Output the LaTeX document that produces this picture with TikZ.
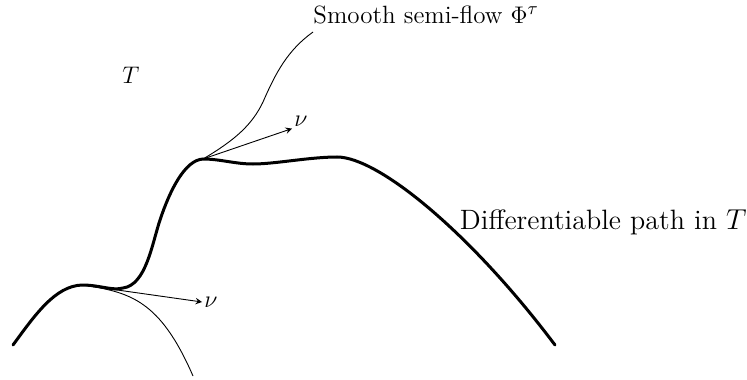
\documentclass[tikz,border=0pt]{standalone}
\usepackage{amsmath,amssymb}
\usepackage{tikz}
\usetikzlibrary{positioning}

\begin{document}
\begin{tikzpicture}[x=0.5pt, y=-0.5pt,
  path/.style={line width=1.5pt, line cap=round},
  flow/.style={line width=0.45pt},
  arrow/.style={line width=0.45pt,->,>=stealth},
  lbl/.style={inner sep=1pt, font=\fontsize{12}{14}\selectfont}
]
  \useasboundingbox (0,0) rectangle (747,379);

  % base points on the path
  \coordinate (p1) at (82,285);
  \coordinate (p2) at (203,159);

  % differentiable path
  \draw[path] (13,345) .. controls (35,315) and (55,286) .. (p1)
    .. controls (100,285) and (112,291) .. (123,288)
    .. controls (146,285) and (152,244) .. (160,220)
    .. controls (170,190) and (185,160) .. (p2)
    .. controls (220,159) and (235,164) .. (253,164)
    .. controls (275,164) and (310,157) .. (337,157)
    .. controls (378,157) and (470,232) .. (555,345);

  % semi-flow curves
  \draw[flow] (p1) .. controls (130,292) and (160,300) .. (193,376);
  \draw[flow] (p2) .. controls (235,140) and (252,125) .. (263,102)
    .. controls (276,72) and (288,50) .. (313,32);

  % normal vectors
  \node[lbl] (nu1) at (301,121) {$\nu$};
  \node[lbl] (nu2) at (211,302) {$\nu$};
  \draw[arrow] (p2) -- (nu1.south west);
  \draw[arrow] (p1) -- (nu2.west);

  % labels
  \node[lbl] (T) at (131,75) {$T$};
  \node[anchor=west, inner sep=0pt, font=\fontsize{12.5}{14}\selectfont] (sf) at (313,15)
    {Smooth semi-flow $\Phi^\tau$};
  \node[anchor=east, inner sep=0pt, font=\fontsize{14}{16}\selectfont] (dp) at (747,222)
    {Differentiable path in $T$};
\end{tikzpicture}
\end{document}
